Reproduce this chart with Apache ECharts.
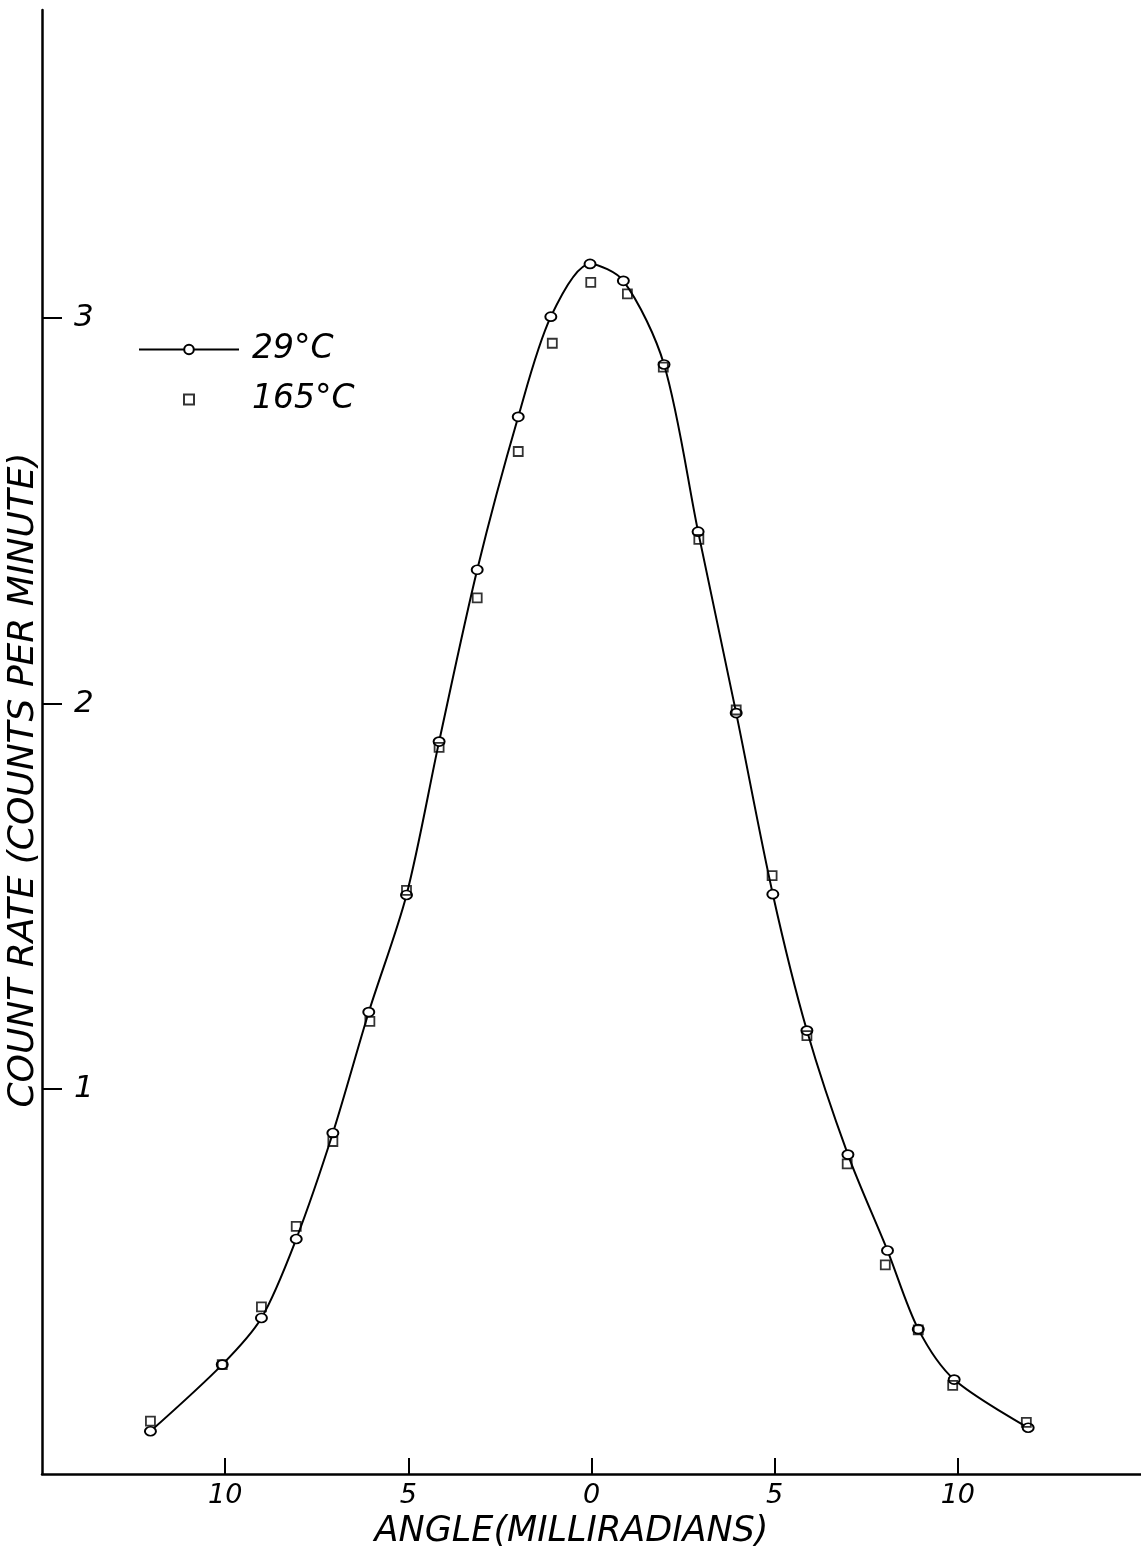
<!DOCTYPE html>
<html>
<head>
<meta charset="utf-8">
<script src="https://cdn.jsdelivr.net/npm/echarts@6/dist/echarts.min.js"></script>
<style>
html,body{margin:0;padding:0;background:#fff;}
#chart{width:1141px;height:1555px;}
</style>
</head>
<body>
<div id="chart"></div>
<script>
// 29 °C (circles, with smooth curve)
const angles29 = [-12.04, -10.08, -9.01, -8.06, -7.06, -6.08, -5.05, -4.16, -3.12, -2.0, -1.11, -0.04, 0.87, 1.98, 2.91, 3.95, 4.95, 5.88, 7.0, 8.08, 8.92, 9.9, 11.92];
const counts29 = [0.111, 0.284, 0.405, 0.610, 0.885, 1.199, 1.503, 1.901, 2.347, 2.744, 3.004, 3.141, 3.097, 2.880, 2.446, 1.975, 1.505, 1.151, 0.829, 0.580, 0.376, 0.245, 0.120];
// 165 °C (squares)
const angles165 = [-12.04, -10.08, -9.01, -8.06, -7.06, -6.05, -5.05, -4.16, -3.12, -2.0, -1.07, -0.02, 0.98, 1.96, 2.93, 3.95, 4.93, 5.88, 6.98, 8.02, 8.92, 9.86, 11.87];
const counts165 = [0.137, 0.284, 0.434, 0.643, 0.863, 1.175, 1.515, 1.886, 2.274, 2.654, 2.935, 3.093, 3.063, 2.873, 2.426, 1.983, 1.553, 1.138, 0.805, 0.543, 0.374, 0.230, 0.134];
// tick labels
const xTickValues = [-10, -5, 0, 5, 10];
const xTickLabels = ['10', '5', '0', '5', '10'];
const yTickValues = [1, 2, 3];
const yTickLabels = ['1', '2', '3'];
const seriesNames = ['29°C', '165°C'];
const xName = 'ANGLE(MILLIRADIANS)';
const yName = 'COUNT RATE (COUNTS PER MINUTE)';

const FONT = 'DejaVu Sans';
const chart = echarts.init(document.getElementById('chart'), null, {renderer: 'canvas'});
const pairs = (xs, ys) => xs.map((x, i) => [x, ys[i]]);
const legendText = {fontFamily: FONT, fontStyle: 'italic', fontSize: 33, color: '#000', lineHeight: 32};

chart.setOption({
  animation: false,
  backgroundColor: '#fff',
  grid: {left: 42, right: 0, top: 10, bottom: 81, containLabel: false, outerBoundsMode: 'none'},
  legend: [
    {
      orient: 'vertical', left: 133, top: 328,
      itemWidth: 100, itemHeight: 12, selectedMode: false,
      textStyle: Object.assign({padding: [0, 0, 0, 8]}, legendText),
      data: [{name: seriesNames[0]}]
    },
    {
      orient: 'vertical', left: 178, top: 378,
      itemWidth: 10, itemHeight: 10, selectedMode: false,
      textStyle: Object.assign({padding: [0, 0, 0, 53]}, legendText),
      data: [{name: seriesNames[1]}]
    }
  ],
  xAxis: {
    type: 'value', min: -15, max: 15, interval: 5,
    name: xName, nameLocation: 'middle', nameGap: 40, nameMoveOverlap: false,
    nameTextStyle: {fontFamily: FONT, fontStyle: 'italic', fontSize: 35, color: '#000', padding: [0, 40, 0, 0]},
    axisLine: {show: true, onZero: false, lineStyle: {color: '#000', width: 2.5}},
    axisTick: {show: true, inside: true, length: 16, customValues: xTickValues, lineStyle: {color: '#000', width: 2}},
    axisLabel: {show: true, customValues: xTickValues, margin: 8, fontFamily: FONT, fontStyle: 'italic', fontSize: 27, color: '#000',
      formatter: v => xTickLabels[xTickValues.indexOf(Math.round(v))] ?? ''},
    splitLine: {show: false}
  },
  yAxis: {
    type: 'value', min: 0, max: 3.8,
    name: yName, nameLocation: 'middle', nameGap: 18, nameRotate: 90, nameMoveOverlap: false,
    nameTextStyle: {fontFamily: FONT, fontStyle: 'italic', fontSize: 36, color: '#000', verticalAlign: 'middle', padding: [0, 76, 0, 0]},
    axisLine: {show: true, onZero: false, lineStyle: {color: '#000', width: 2.5}},
    axisTick: {show: true, inside: true, length: 20, customValues: yTickValues, lineStyle: {color: '#000', width: 2}},
    axisLabel: {show: true, inside: true, customValues: yTickValues, margin: 32, fontFamily: FONT, fontStyle: 'italic', fontSize: 31, color: '#000',
      formatter: v => yTickLabels[yTickValues.indexOf(Math.round(v))] ?? ''},
    splitLine: {show: false}
  },
  series: [
    {
      name: seriesNames[0], type: 'line', data: pairs(angles29, counts29),
      smooth: 0.3, symbol: 'circle', symbolSize: [11, 9], showAllSymbol: true,
      lineStyle: {color: '#000', width: 2},
      itemStyle: {color: '#fff', borderColor: '#000', borderWidth: 1.8},
      z: 3
    },
    {
      name: seriesNames[1], type: 'scatter', data: pairs(angles165, counts165),
      symbol: 'rect', symbolSize: 9,
      itemStyle: {color: 'rgba(255,255,255,0)', borderColor: '#000', borderWidth: 1.8},
      z: 4
    }
  ]
});
</script>
</body>
</html>
